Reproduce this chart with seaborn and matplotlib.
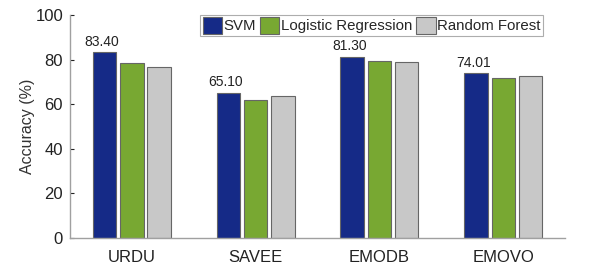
import pandas as pd
import matplotlib.pyplot as plt
import seaborn as sns

# Values
datasets = ["URDU", "SAVEE", "EMODB", "EMOVO"]
models = ["SVM", "Logistic Regression", "Random Forest"]
svm_acc = [83.40, 65.10, 81.30, 74.01]
lr_acc = [78.3, 62.0, 79.5, 71.6]
rf_acc = [76.7, 63.5, 78.8, 72.8]
colors = ["#152a87", "#78a832", "#c8c8c8"]

rows = []
for name, vals in zip(models, [svm_acc, lr_acc, rf_acc]):
    for ds, v in zip(datasets, vals):
        rows.append({"Dataset": ds, "Model": name, "Accuracy": v})
df = pd.DataFrame(rows)

sns.set_style("white")
plt.rcParams["font.family"] = ["Liberation Sans", "DejaVu Sans"]

fig, ax = plt.subplots(figsize=(5.98, 2.72), dpi=100)
sns.barplot(data=df, x="Dataset", y="Accuracy", hue="Model", order=datasets,
            hue_order=models, palette=colors, width=0.66, gap=0.14,
            edgecolor="#666666", linewidth=0.8, saturation=1, ax=ax)

# Value labels on the SVM bars only
for bar, v in zip(ax.containers[0], svm_acc):
    ax.text(bar.get_x() + bar.get_width() / 2 - 0.02, v + 1.5, f"{v:.2f}",
            ha="center", va="bottom", fontsize=10, color="#222222")

ax.set_xlim(-0.5, 3.5)
ax.set_ylim(0, 100)
ax.set_yticks([0, 20, 40, 60, 80, 100])
ax.set_xlabel("")
ax.set_ylabel("Accuracy (%)", fontsize=11.5, color="#333333", labelpad=0)
ax.tick_params(axis="both", labelsize=12, colors="#222222", length=3,
               direction="in", left=True, bottom=False)
ax.tick_params(axis="x", pad=9)
ax.tick_params(axis="y", pad=5)
for side in ["top", "right"]:
    ax.spines[side].set_visible(False)
for side in ["left", "bottom"]:
    ax.spines[side].set_color("#a0a0a0")
    ax.spines[side].set_linewidth(1.0)

leg = ax.legend(loc="upper right", ncol=3, fontsize=10.8, frameon=True,
                fancybox=False, edgecolor="#999999", handlelength=1.3,
                handleheight=1.3, handletextpad=0.1, columnspacing=0.25,
                borderpad=0.15, borderaxespad=0.0, bbox_to_anchor=(0.955, 1.0))
leg.get_frame().set_linewidth(0.8)

plt.subplots_adjust(left=0.117, right=0.945, top=0.945, bottom=0.125)
plt.savefig("out.png", dpi=100)
